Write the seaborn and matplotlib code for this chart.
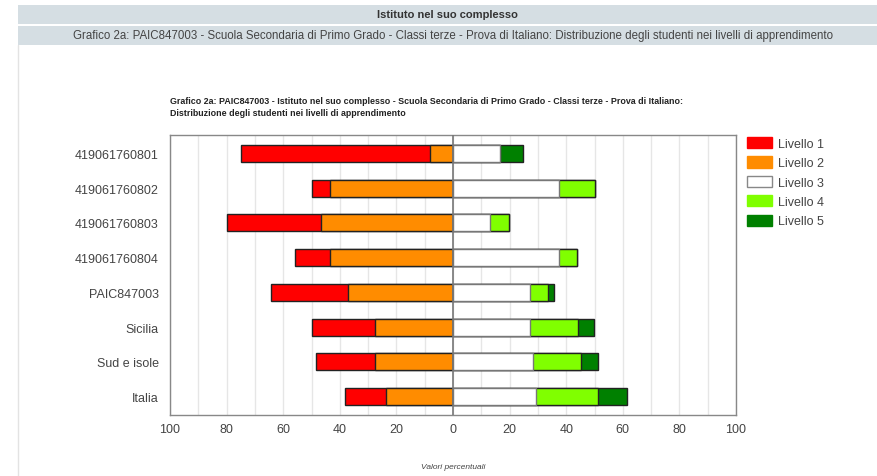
import matplotlib
matplotlib.use("Agg")
import matplotlib.pyplot as plt
from matplotlib.patches import Rectangle, Patch
from matplotlib.lines import Line2D
import seaborn as sns
import pandas as pd
import numpy as np

categories = ["419061760801", "419061760802", "419061760803", "419061760804",
              "PAIC847003", "Sicilia", "Sud e isole", "Italia"]
livello1 = [66.8, 6.2, 33.3, 12.3, 27.0, 22.2, 20.8, 14.6]
livello2 = [8.0, 43.6, 46.5, 43.6, 37.2, 27.6, 27.6, 23.7]
livello3 = [16.7, 37.3, 13.2, 37.3, 27.1, 27.3, 28.1, 29.2]
livello4 = [0.0, 12.7, 6.7, 6.5, 6.4, 16.9, 17.1, 21.9]
livello5 = [8.0, 0.0, 0.0, 0.0, 2.1, 5.5, 5.9, 10.4]
legend_labels = ["Livello 1", "Livello 2", "Livello 3", "Livello 4", "Livello 5"]
colors = ["#ff0000", "#ff8c00", "#ffffff", "#80ff00", "#008000"]
xticks = [-100, -80, -60, -40, -20, 0, 20, 40, 60, 80, 100]
xticklabels = ["100", "80", "60", "40", "20", "0", "20", "40", "60", "80", "100"]

sns.set_theme(style="white")
plt.rcParams['font.family'] = ['Liberation Sans', 'DejaVu Sans']

df = pd.DataFrame({
    "cat": categories,
    "l1": livello1, "l2": livello2, "l3": livello3, "l4": livello4, "l5": livello5,
})
df["neg12"] = -(df["l1"] + df["l2"])
df["neg2"] = -df["l2"]
df["pos345"] = df["l3"] + df["l4"] + df["l5"]
df["pos34"] = df["l3"] + df["l4"]
df["pos3"] = df["l3"]

fig = plt.figure(figsize=(8.77, 4.77), dpi=100)
fig.patch.set_facecolor("white")

# header bands
band_color = "#d5dee3"
fig.patches.append(Rectangle((18/877, 1-25/477), 1, 19/477, transform=fig.transFigure,
                             facecolor=band_color, edgecolor="none", zorder=0))
fig.patches.append(Rectangle((18/877, 1-46/477), 1, 19/477, transform=fig.transFigure,
                             facecolor=band_color, edgecolor="none", zorder=0))
fig.lines.append(Line2D([18/877, 18/877], [0, 1-46/477], transform=fig.transFigure,
                        color="#e3e3e3", lw=1))
fig.text(0.51, 1-15.5/477, "Istituto nel suo complesso", ha="center", va="center",
         fontsize=8, fontweight="bold", color="#333333")
fig.text(0.516, 1-36.5/477,
         "Grafico 2a: PAIC847003 - Scuola Secondaria di Primo Grado - Classi terze - Prova di Italiano: Distribuzione degli studenti nei livelli di apprendimento",
         ha="center", va="center", fontsize=8.3, color="#444444")

ax = fig.add_axes([170/877, 1-416/477, 566/877, 280/477])

grid_x = np.arange(-100, 101, 10)
for gx in grid_x:
    ax.axvline(gx, color="#e6e6e6", lw=1, zorder=0)

bw = 0.49
ekw = dict(orient="h", width=bw, linewidth=1, ax=ax, order=categories, saturation=1)
sns.barplot(data=df, x="neg12", y="cat", color=colors[0], edgecolor="#222222", **ekw)
sns.barplot(data=df, x="neg2", y="cat", color=colors[1], edgecolor="#222222", **ekw)
sns.barplot(data=df, x="pos345", y="cat", color=colors[4], edgecolor="#222222", **ekw)
sns.barplot(data=df, x="pos34", y="cat", color=colors[3], edgecolor="#222222", **ekw)
sns.barplot(data=df, x="pos3", y="cat", color=colors[2], edgecolor="#777777", **ekw)
for p in ax.patches:
    p.set_zorder(2)
    if p.get_width() == 0:
        p.set_visible(False)

ax.axvline(0, color="#777777", lw=1.2, zorder=3)
ax.set_xlim(-100, 100)
ax.set_ylim(7.53, -0.53)
ax.set_xticks(xticks)
ax.set_xticklabels(xticklabels, fontsize=9, color="#444444")
ax.tick_params(axis="y", labelsize=9, labelcolor="#444444", length=0, pad=8)
ax.tick_params(axis="x", length=0, pad=6)
ax.set_ylabel("")
ax.set_xlabel("")
for s in ax.spines.values():
    s.set_color("#888888")
    s.set_linewidth(1)

fig.text(170/877, 1-101/477,
         "Grafico 2a: PAIC847003 - Istituto nel suo complesso - Scuola Secondaria di Primo Grado - Classi terze - Prova di Italiano:",
         ha="left", va="center", fontsize=6.4, fontweight="bold", color="#222222")
fig.text(170/877, 1-114/477, "Distribuzione degli studenti nei livelli di apprendimento",
         ha="left", va="center", fontsize=6.4, fontweight="bold", color="#222222")

fig.text(453/877, 1-468/477, "Valori percentuali", ha="center", va="center",
         fontsize=6, style="italic", color="#444444")

handles = [Patch(facecolor=c, edgecolor=("#888888" if c == "#ffffff" else c)) for c in colors]
leg = fig.legend(handles, legend_labels, loc="upper left", bbox_to_anchor=(747/877, 1-138/477),
                 frameon=False, fontsize=9, handlelength=2.0, handleheight=1.0,
                 labelspacing=0.52, handletextpad=0.45, borderpad=0, borderaxespad=0)
for t in leg.get_texts():
    t.set_color("#444444")

fig.savefig("out.png", dpi=100)
